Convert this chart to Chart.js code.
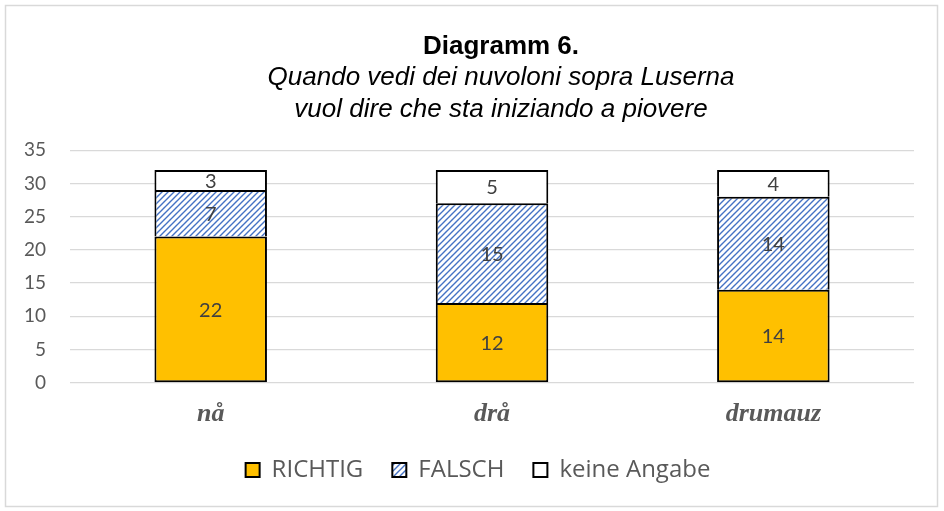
<!DOCTYPE html>
<html>
<head>
<meta charset="utf-8">
<script src="https://cdn.jsdelivr.net/npm/chart.js@4/dist/chart.umd.min.js"></script>
<style>
    html, body { margin: 0; padding: 0; background: #fff; }
    #wrap { width: 944px; height: 511px; }
</style>
</head>
<body>
<div id="wrap"><canvas id="chart" width="944" height="511"></canvas></div>
<script>
'use strict';

// Dati
const categorie = ['nå', 'drå', 'drumauz'];
const richtig = [22, 12, 14];
const falsch = [7, 15, 14];
const keineAngabe = [3, 5, 4];
const yTicks = [0, 5, 10, 15, 20, 25, 30, 35];

const titolo = 'Diagramm 6.';
const sottotitolo = ['Quando vedi dei nuvoloni sopra Luserna', 'vuol dire che sta iniziando a piovere'];

const COLORS = {
    richtig: '#FFC000',
    hatch: '#4472C4',
    white: '#FFFFFF',
    border: '#000000',
    grid: '#D9D9D9',
    text: '#595959',
    label: '#404040',
    frame: '#D9D9D9',
};

// Tratteggio diagonale per FALSCH
function makeHatch() {
    const c = document.createElement('canvas');
    c.width = 6; c.height = 6;
    const g = c.getContext('2d');
    g.fillStyle = '#fff';
    g.fillRect(0, 0, 6, 6);
    g.strokeStyle = COLORS.hatch;
    g.lineWidth = 1.4;
    g.beginPath();
    g.moveTo(-1, 7); g.lineTo(7, -1);
    g.moveTo(-1, 1); g.lineTo(1, -1);
    g.moveTo(5, 7); g.lineTo(7, 5);
    g.stroke();
    return g.createPattern(c, 'repeat');
}

const hatch = makeHatch();

// Sfondo bianco e cornice grigia
const framePlugin = {
    id: 'frame',
    beforeDraw(chart) {
        const { ctx, width, height } = chart;
        ctx.save();
        ctx.fillStyle = '#fff';
        ctx.fillRect(0, 0, width, height);
        ctx.strokeStyle = COLORS.frame;
        ctx.lineWidth = 1.5;
        ctx.strokeRect(5.5, 5.5, width - 12, height - 10);
        ctx.restore();
    }
};

// Titolo e legenda spostati come nell'originale
const shiftBoxes = {
    id: 'shiftBoxes',
    afterLayout(chart) {
        const TitleEl = Chart.Title._element;
        chart.boxes.forEach(b => {
            if (b instanceof TitleEl) { b.left += 9; b.right += 9; }
        });
        const lg = chart.legend;
        if (lg) { lg.left += 21; lg.right += 21; lg.top -= 9; lg.bottom -= 9; }
    }
};

// Etichette dei valori al centro di ogni segmento
const valueLabels = {
    id: 'valueLabels',
    afterDatasetsDraw(chart) {
        const { ctx } = chart;
        ctx.save();
        ctx.font = '20px Lato, "Open Sans", sans-serif';
        ctx.fillStyle = COLORS.label;
        ctx.textAlign = 'center';
        ctx.textBaseline = 'middle';
        chart.data.datasets.forEach((ds, i) => {
            const meta = chart.getDatasetMeta(i);
            meta.data.forEach((bar, j) => {
                const v = ds.data[j];
                if (!v) return;
                const p = bar.getProps(['x', 'y', 'base'], true);
                ctx.fillText(String(v), p.x, (p.y + p.base) / 2 + 1);
            });
        });
        ctx.restore();
    }
};

const common = {
    borderColor: COLORS.border,
    borderSkipped: false,
    barPercentage: 0.4,
    categoryPercentage: 1.0,
};

new Chart(document.getElementById('chart').getContext('2d'), {
    type: 'bar',
    data: {
        labels: categorie,
        datasets: [
            { label: 'RICHTIG', data: richtig, backgroundColor: COLORS.richtig, borderWidth: { top: 2, left: 2, right: 2, bottom: 2 }, ...common },
            { label: 'FALSCH', data: falsch, backgroundColor: hatch, borderWidth: { top: 2, left: 2, right: 2, bottom: 0 }, ...common },
            { label: 'keine Angabe', data: keineAngabe, backgroundColor: COLORS.white, borderWidth: { top: 2, left: 2, right: 2, bottom: 0 }, ...common },
        ]
    },
    options: {
        responsive: false,
        animation: false,
        layout: { padding: { left: 0, right: 30, top: 20, bottom: 10 } },
        plugins: {
            title: {
                display: true,
                text: titolo,
                fullSize: false,
                color: '#000',
                font: { family: '"Liberation Sans", Arial, sans-serif', size: 26, weight: 'bold', lineHeight: 1.2 },
                padding: { top: 11, bottom: 0 },
            },
            subtitle: {
                display: true,
                text: sottotitolo,
                fullSize: false,
                color: '#000',
                font: { family: '"Liberation Sans", Arial, sans-serif', size: 26, style: 'italic', lineHeight: 1.23 },
                padding: { top: 0, bottom: 24 },
            },
            legend: {
                position: 'bottom',
                labels: {
                    boxWidth: 14,
                    boxHeight: 14,
                    padding: 29,
                    color: COLORS.text,
                    font: { family: '"Open Sans", Lato, sans-serif', size: 24 },
                    generateLabels: chart => Chart.defaults.plugins.legend.labels.generateLabels(chart)
                        .map(l => ({ ...l, lineWidth: 2 })),
                }
            },
            tooltip: { enabled: false },
        },
        scales: {
            x: {
                stacked: true,
                grid: { display: false },
                border: { display: false },
                ticks: {
                    color: COLORS.text,
                    padding: 8,
                    font: { family: '"Liberation Serif", "Times New Roman", serif', size: 26, weight: 'bold', style: 'italic' },
                }
            },
            y: {
                stacked: true,
                min: yTicks[0],
                max: yTicks[yTicks.length - 1],
                afterBuildTicks: axis => { axis.ticks = yTicks.map(v => ({ value: v })); },
                grid: { color: COLORS.grid, lineWidth: 1.3, drawTicks: false },
                border: { display: false },
                ticks: {
                    color: COLORS.text,
                    padding: 24,
                    font: { family: 'Lato, "Open Sans", sans-serif', size: 19 },
                }
            }
        }
    },
    plugins: [framePlugin, shiftBoxes, valueLabels]
});
</script>
</body>
</html>
